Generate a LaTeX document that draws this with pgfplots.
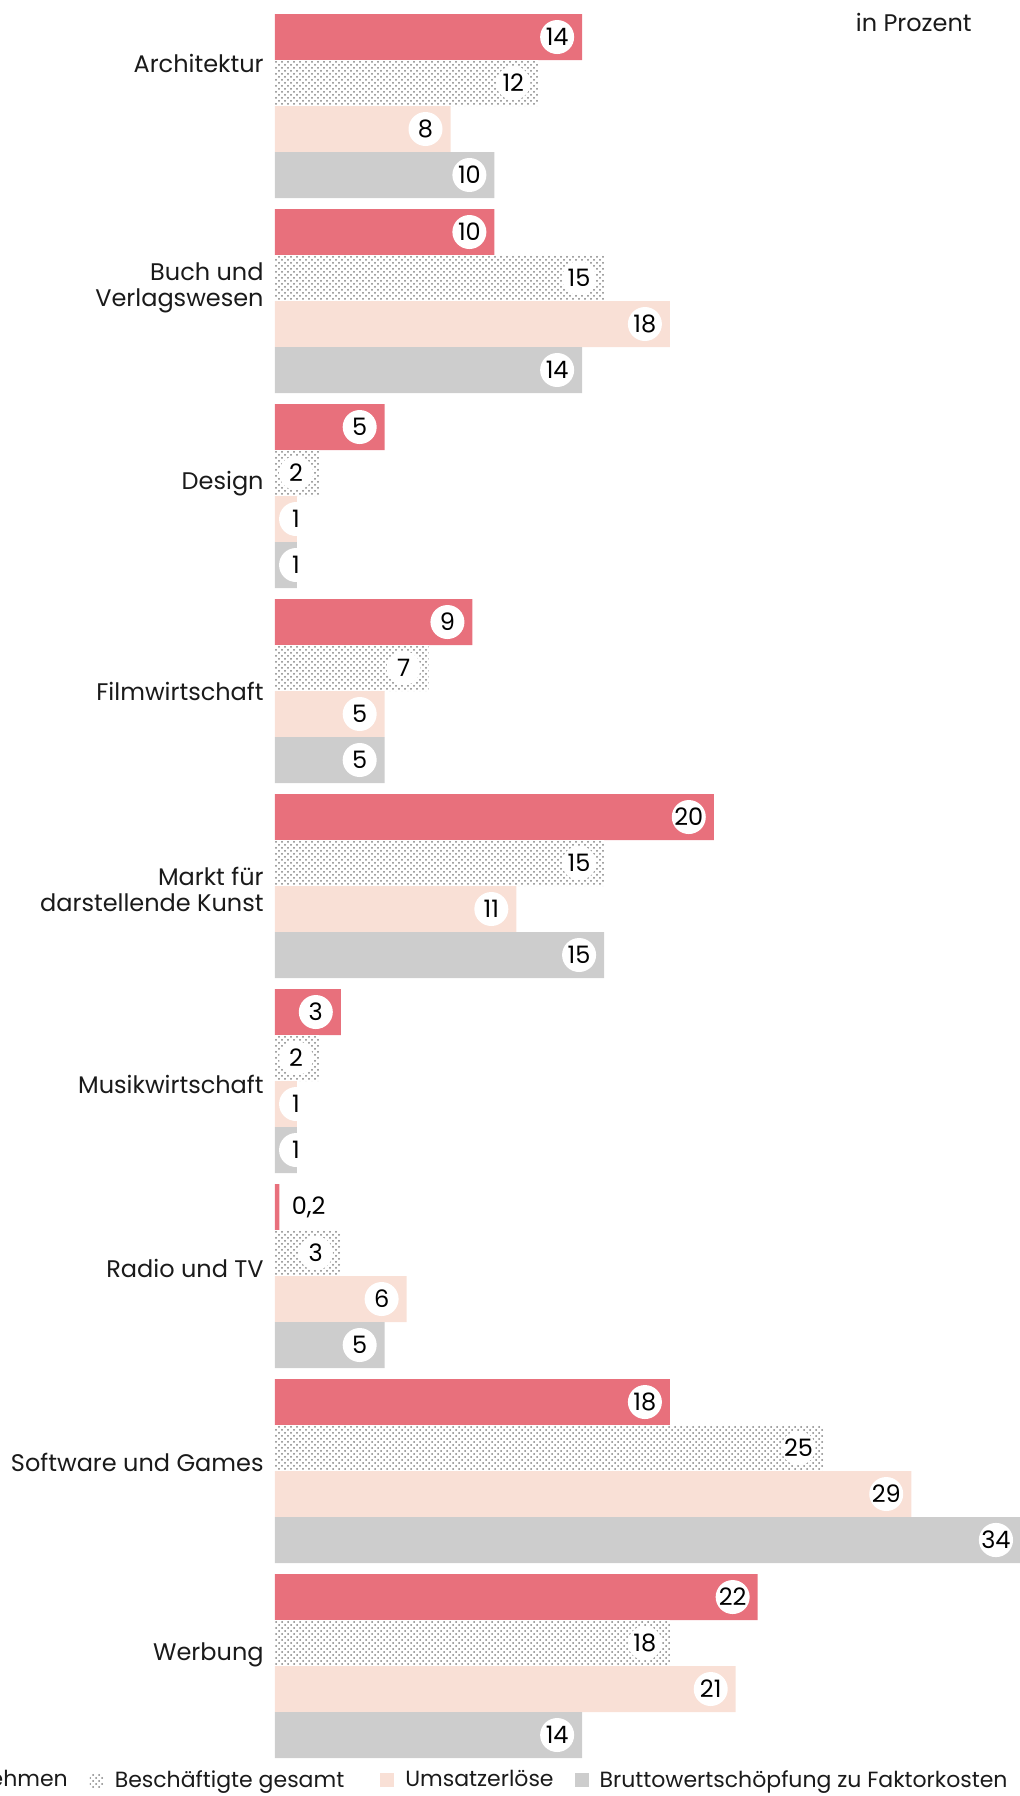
\documentclass[border=0pt]{standalone}
\usepackage{pgfplots}
\pgfplotsset{compat=1.18}
\usepackage{pgfplotstable}
\usetikzlibrary{patterns}
\usepackage{fontspec}
\setmainfont{Poppins}

\definecolor{cred}{RGB}{232,112,124}
\definecolor{cpeach}{RGB}{249,224,214}
\definecolor{cgray}{RGB}{205,205,205}
\definecolor{cdot}{RGB}{130,130,130}
\definecolor{ctext}{RGB}{26,26,26}

\pgfplotstableread{
g red dot peach gray
0 14 12 8 10
1 10 15 18 14
2 5 2 1 1
3 9 7 5 5
4 20 15 11 15
5 3 2 1 1
6 0.2 3 6 5
7 18 25 29 34
8 22 18 21 14
}\data

\newcommand{\lf}{\fontsize{12}{13}\selectfont}
\newcommand{\legf}{\fontsize{11}{13}\selectfont}

\pgfplotsset{
  mybar/.style={xbar, bar width=23pt, draw=none,
    legend image code/.code={\fill[##1] (0pt,-3.5pt) rectangle (7pt,3.5pt);}},
  mylab/.style={draw=none, mark=none, forget plot, nodes near coords,
    point meta=explicit symbolic,
    every node near coord/.style={circle, fill=white, minimum size=17pt, inner sep=0pt, anchor=center, font=\lf, text=black}},
}

\begin{document}
\begin{tikzpicture}
\useasboundingbox (0pt,-898pt) rectangle (510pt,0pt);
\begin{axis}[
  at={(137.5pt,0pt)}, anchor=north west,
  x=10.97pt, y=97.5pt,
  xmin=0, xmax=34, ymin=-8.667, ymax=0.5436,
  clip=false,
  axis line style={draw=none},
  xtick=\empty,
  ytick={0.218,-0.933,-1.935,-3,-4.015,-5.02,-5.96,-6.954,-7.945},
  yticklabels={Architektur,{Buch und\\Verlagswesen},Design,Filmwirtschaft,{Markt für\\darstellende Kunst},Musikwirtschaft,Radio und TV,Software und Games,Werbung},
  major tick length=0pt,
  yticklabel style={align=right, anchor=east, inner sep=0pt, xshift=-5.5pt, font=\lf, text=ctext},
  legend columns=-1,
  legend cell align=left,
  legend style={at={(0.9826,0.0089)}, anchor=east, draw=none, fill=none, inner sep=0pt,
    font=\legf, text=ctext,
    nodes={inner sep=0pt},
    /tikz/every odd column/.append style={column sep=5.5pt},
    /tikz/column 2/.style={column sep=11pt},
    /tikz/column 4/.style={column sep=18pt},
    /tikz/column 6/.style={column sep=10.5pt}},
]
\addplot[mybar, bar shift=34.5pt, fill=cred] table[x=red, y expr=-\thisrow{g}] {\data};
\addlegendentry{Unternehmen}
\addplot[mybar, bar shift=11.5pt, fill=white, postaction={pattern=crosshatch dots, pattern color=cdot}] table[x=dot, y expr=-\thisrow{g}] {\data};
\addlegendentry{Beschäftigte gesamt}
\addplot[mybar, bar shift=-11.5pt, fill=cpeach] table[x=peach, y expr=-\thisrow{g}] {\data};
\addlegendentry{Umsatzerlöse}
\addplot[mybar, bar shift=-34.5pt, fill=cgray] table[x=gray, y expr=-\thisrow{g}] {\data};
\addlegendentry{Bruttowertschöpfung zu Faktorkosten}

\addplot[mylab, skip coords between index={6}{7}] table[x expr={max(\thisrow{red}-1.14,0.96)}, y expr={-\thisrow{g}+0.3538}, meta=red] {\data};
\addplot[mylab] table[x expr={max(\thisrow{dot}-1.14,0.96)}, y expr={-\thisrow{g}+0.1179}, meta=dot] {\data};
\addplot[mylab] table[x expr={max(\thisrow{peach}-1.14,0.96)}, y expr={-\thisrow{g}-0.1179}, meta=peach] {\data};
\addplot[mylab] table[x expr={max(\thisrow{gray}-1.14,0.96)}, y expr={-\thisrow{g}-0.3538}, meta=gray] {\data};
\addplot[draw=none, mark=none, forget plot, nodes near coords={0,2},
  every node near coord/.style={anchor=west, inner sep=0pt, font=\lf, text=black},
  skip coords between index={0}{6}, skip coords between index={7}{9}] table[x expr=\thisrow{red}+0.55, y expr={-\thisrow{g}+0.3538}] {\data};

\node[anchor=east, inner sep=0pt, font=\lf, text=ctext] at (axis description cs:0.9344,0.98775) {in Prozent};
\end{axis}
\end{tikzpicture}
\end{document}
